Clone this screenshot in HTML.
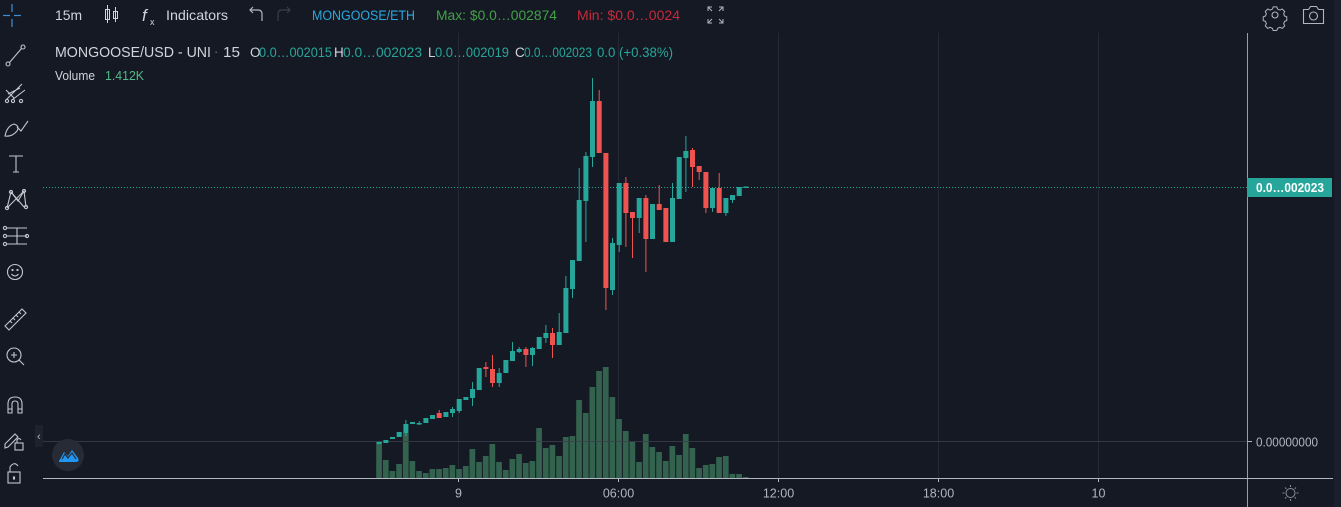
<!DOCTYPE html>
<html><head><meta charset="utf-8">
<style>
html,body{margin:0;padding:0;background:#151924;}
svg{display:block;}
text{font-family:"Liberation Sans",sans-serif;}
</style></head>
<body>
<svg width="1341" height="507" viewBox="0 0 1341 507" xmlns="http://www.w3.org/2000/svg">
<rect width="1341" height="507" fill="#151924"/>
<rect x="1334" y="0" width="7" height="507" fill="#1b1f2b"/>

<g fill="#252935">
<rect x="458" y="33" width="1" height="445"/>
<rect x="618" y="33" width="1" height="445"/>
<rect x="778" y="33" width="1" height="445"/>
<rect x="938" y="33" width="1" height="445"/>
<rect x="1098" y="33" width="1" height="445"/>
</g>

<g fill="#33634f">
<rect x="376.2" y="441" width="5.7" height="37"/>
<rect x="382.9" y="460" width="5.7" height="18"/>
<rect x="389.5" y="471" width="5.7" height="7"/>
<rect x="396.2" y="464" width="5.7" height="14"/>
<rect x="402.9" y="433" width="5.7" height="45"/>
<rect x="409.5" y="461" width="5.7" height="17"/>
<rect x="416.2" y="471" width="5.7" height="7"/>
<rect x="422.9" y="473" width="5.7" height="5"/>
<rect x="429.5" y="469" width="5.7" height="9"/>
<rect x="436.2" y="469" width="5.7" height="9"/>
<rect x="442.9" y="468" width="5.7" height="10"/>
<rect x="449.5" y="465" width="5.7" height="13"/>
<rect x="456.2" y="469" width="5.7" height="9"/>
<rect x="462.9" y="466" width="5.7" height="12"/>
<rect x="469.5" y="449" width="5.7" height="29"/>
<rect x="476.2" y="462" width="5.7" height="16"/>
<rect x="482.9" y="456" width="5.7" height="22"/>
<rect x="489.5" y="444" width="5.7" height="34"/>
<rect x="496.2" y="462" width="5.7" height="16"/>
<rect x="502.9" y="470" width="5.7" height="8"/>
<rect x="509.5" y="459" width="5.7" height="19"/>
<rect x="516.2" y="454" width="5.7" height="24"/>
<rect x="522.9" y="463" width="5.7" height="15"/>
<rect x="529.5" y="461" width="5.7" height="17"/>
<rect x="536.2" y="428" width="5.7" height="50"/>
<rect x="542.9" y="448" width="5.7" height="30"/>
<rect x="549.5" y="445" width="5.7" height="33"/>
<rect x="556.2" y="456" width="5.7" height="22"/>
<rect x="562.9" y="437" width="5.7" height="41"/>
<rect x="569.5" y="436" width="5.7" height="42"/>
<rect x="576.2" y="400" width="5.7" height="78"/>
<rect x="582.9" y="413" width="5.7" height="65"/>
<rect x="589.5" y="387" width="5.7" height="91"/>
<rect x="596.2" y="371" width="5.7" height="107"/>
<rect x="602.9" y="367" width="5.7" height="111"/>
<rect x="609.5" y="397" width="5.7" height="81"/>
<rect x="616.2" y="419" width="5.7" height="59"/>
<rect x="622.9" y="431" width="5.7" height="47"/>
<rect x="629.5" y="442" width="5.7" height="36"/>
<rect x="636.2" y="462" width="5.7" height="16"/>
<rect x="642.9" y="434" width="5.7" height="44"/>
<rect x="649.5" y="447" width="5.7" height="31"/>
<rect x="656.2" y="452" width="5.7" height="26"/>
<rect x="662.9" y="461" width="5.7" height="17"/>
<rect x="669.5" y="446" width="5.7" height="32"/>
<rect x="676.2" y="455" width="5.7" height="23"/>
<rect x="682.9" y="434" width="5.7" height="44"/>
<rect x="689.5" y="448" width="5.7" height="30"/>
<rect x="696.2" y="468" width="5.7" height="10"/>
<rect x="702.9" y="465" width="5.7" height="13"/>
<rect x="709.5" y="464" width="5.7" height="14"/>
<rect x="716.2" y="457" width="5.7" height="21"/>
<rect x="722.9" y="456" width="5.7" height="22"/>
<rect x="729.5" y="474" width="5.7" height="4"/>
<rect x="736.2" y="474" width="5.7" height="4"/>
<rect x="742.9" y="477" width="5.7" height="1"/>
</g>

<rect x="43" y="441" width="1204" height="1" fill="#3a3e4a" opacity="0.85"/>
<rect x="1247" y="441" width="5" height="1" fill="#b2b5be"/>

<line x1="43" y1="187.5" x2="1247" y2="187.5" stroke="#26a69a" stroke-width="1" stroke-dasharray="1 2"/>

<g fill="#26a69a">
<rect x="376.7" y="442" width="5" height="2"/>
<rect x="383.4" y="440" width="5" height="3"/>
<rect x="390" y="437" width="5" height="2"/>
<rect x="396.7" y="432" width="5" height="5"/>
<rect x="403.4" y="424" width="5" height="9"/><rect x="405.4" y="420" width="1" height="16"/>
<rect x="410" y="422" width="5" height="2"/>
<rect x="416.7" y="423" width="5" height="1.5"/><rect x="418.7" y="421" width="1" height="4"/>
<rect x="423.4" y="418" width="5" height="5"/>
<rect x="430" y="415" width="5" height="4"/>
<rect x="443.4" y="412" width="5" height="5"/>
<rect x="450" y="409" width="5" height="4"/><rect x="452" y="407" width="1" height="10"/>
<rect x="456.7" y="399" width="5" height="12"/><rect x="458.7" y="399" width="1" height="14"/>
<rect x="463.4" y="397" width="5" height="3"/>
<rect x="470" y="389" width="5" height="9"/><rect x="472" y="382" width="1" height="24"/>
<rect x="476.7" y="368" width="5" height="22"/>
<rect x="496.7" y="373" width="5" height="10"/><rect x="498.7" y="368" width="1" height="19"/>
<rect x="503.4" y="360" width="5" height="13"/>
<rect x="510" y="351" width="5" height="10"/><rect x="512" y="342" width="1" height="19"/>
<rect x="516.7" y="349" width="5" height="3"/><rect x="518.7" y="347" width="1" height="6"/>
<rect x="530" y="348" width="5" height="7"/><rect x="532" y="347" width="1" height="19"/>
<rect x="536.7" y="337" width="5" height="12"/>
<rect x="543.4" y="333" width="5" height="5"/><rect x="545.4" y="325" width="1" height="18"/>
<rect x="556.7" y="332" width="5" height="13"/><rect x="558.7" y="313" width="1" height="32"/>
<rect x="563.4" y="288" width="5" height="45"/><rect x="565.4" y="276" width="1" height="57"/>
<rect x="570" y="260" width="5" height="29"/><rect x="572" y="260" width="1" height="38"/>
<rect x="576.7" y="200" width="5" height="61"/><rect x="578.7" y="168" width="1" height="93"/>
<rect x="583.4" y="156" width="5" height="45"/><rect x="585.4" y="152" width="1" height="90"/>
<rect x="590" y="101" width="5" height="56"/><rect x="592" y="78" width="1" height="89"/>
<rect x="610" y="243" width="5" height="47"/><rect x="612" y="238" width="1" height="57"/>
<rect x="616.7" y="183" width="5" height="62"/><rect x="618.7" y="183" width="1" height="69"/>
<rect x="636.7" y="198" width="5" height="20"/><rect x="638.7" y="198" width="1" height="35"/>
<rect x="650" y="204" width="5" height="35"/>
<rect x="670" y="198" width="5" height="44"/><rect x="672" y="183" width="1" height="59"/>
<rect x="676.7" y="157" width="5" height="42"/>
<rect x="683.4" y="151" width="5" height="7"/><rect x="685.4" y="136" width="1" height="56"/>
<rect x="710" y="188" width="5" height="20"/><rect x="712" y="188" width="1" height="24"/>
<rect x="723.4" y="198" width="5" height="15"/><rect x="725.4" y="198" width="1" height="18"/>
<rect x="730" y="195" width="5" height="5"/><rect x="732" y="195" width="1" height="8"/>
<rect x="736.7" y="187" width="5" height="9"/>
<rect x="743.4" y="186.5" width="5" height="1.5"/>
</g>

<g fill="#ef5350">
<rect x="436.7" y="413" width="5" height="5"/><rect x="438.7" y="410" width="1" height="8"/>
<rect x="483.4" y="367" width="5" height="2"/><rect x="485.4" y="362" width="1" height="15"/>
<rect x="490" y="369" width="5" height="14"/><rect x="492" y="355" width="1" height="32"/>
<rect x="523.4" y="349" width="5" height="6"/><rect x="525.4" y="347" width="1" height="20"/>
<rect x="550" y="333" width="5" height="12"/><rect x="552" y="328" width="1" height="30"/>
<rect x="596.7" y="101" width="5" height="52"/><rect x="598.7" y="90" width="1" height="63"/>
<rect x="603.4" y="153" width="5" height="135"/><rect x="605.4" y="153" width="1" height="157"/>
<rect x="623.4" y="183" width="5" height="30"/><rect x="625.4" y="177" width="1" height="70"/>
<rect x="630" y="212" width="5" height="6"/><rect x="632" y="212" width="1" height="46"/>
<rect x="643.4" y="198" width="5" height="41"/><rect x="645.4" y="195" width="1" height="77"/>
<rect x="656.7" y="204" width="5" height="6"/><rect x="658.7" y="185" width="1" height="25"/>
<rect x="663.4" y="208" width="5" height="34"/>
<rect x="690" y="150" width="5" height="17"/><rect x="692" y="148" width="1" height="39"/>
<rect x="696.7" y="166" width="5" height="6"/><rect x="698.7" y="166" width="1" height="14"/>
<rect x="703.4" y="172" width="5" height="36"/><rect x="705.4" y="172" width="1" height="41"/>
<rect x="716.7" y="188" width="5" height="25"/><rect x="718.7" y="173" width="1" height="40"/>
</g>

<rect x="1247" y="33" width="1" height="474" fill="#9a9da6"/>
<rect x="43" y="478" width="1290" height="1" fill="#b2b5be"/>
<g fill="#b2b5be">
<rect x="458" y="478" width="1" height="4"/>
<rect x="618" y="478" width="1" height="4"/>
<rect x="778" y="478" width="1" height="4"/>
<rect x="938" y="478" width="1" height="4"/>
<rect x="1098" y="478" width="1" height="4"/>
</g>
<g fill="#b2b5be" font-size="12.5" text-anchor="middle">
<text x="458.5" y="497.5">9</text>
<text x="618.5" y="497.5">06:00</text>
<text x="778.5" y="497.5">12:00</text>
<text x="938.5" y="497.5">18:00</text>
<text x="1098.5" y="497.5">10</text>
</g>

<rect x="1247" y="178" width="85" height="19" fill="#26a69a"/>
<text x="1256" y="192" font-size="12.5" font-weight="bold" fill="#ffffff" textLength="68" lengthAdjust="spacingAndGlyphs">0.0…002023</text>
<text x="1256" y="446.5" font-size="12.5" fill="#b2b5be" textLength="62" lengthAdjust="spacingAndGlyphs">0.00000000</text>

<g stroke="#8a8d96" stroke-width="1" fill="none">
<circle cx="1290.5" cy="493" r="4.5"/>
<line x1="1290.5" y1="485" x2="1290.5" y2="487"/><line x1="1290.5" y1="499" x2="1290.5" y2="501"/>
<line x1="1282.5" y1="493" x2="1284.5" y2="493"/><line x1="1296.5" y1="493" x2="1298.5" y2="493"/>
<line x1="1285" y1="487.5" x2="1286.3" y2="488.8"/><line x1="1294.7" y1="497.2" x2="1296" y2="498.5"/>
<line x1="1296" y1="487.5" x2="1294.7" y2="488.8"/><line x1="1286.3" y1="497.2" x2="1285" y2="498.5"/>
</g>

<text x="55" y="20" font-size="14" fill="#d1d4dc" textLength="27" lengthAdjust="spacingAndGlyphs">15m</text>
<g stroke="#d1d4dc" stroke-width="1" fill="none">
<rect x="105.5" y="9.5" width="4" height="10"/><line x1="107.5" y1="5" x2="107.5" y2="23"/>
<rect x="113.5" y="11.5" width="4" height="7"/><line x1="115.5" y1="7" x2="115.5" y2="22"/>
</g>
<text x="142" y="21" font-size="17" font-style="italic" fill="#d1d4dc" font-family="Liberation Serif, serif">f</text>
<text x="150" y="25" font-size="9" fill="#d1d4dc">x</text>
<text x="166" y="20" font-size="14" fill="#d1d4dc" textLength="62" lengthAdjust="spacingAndGlyphs">Indicators</text>
<g stroke="#b2b5be" stroke-width="1.2" fill="none">
<path d="M262 21 V14 Q262 10 258 10 H250"/><path d="M253 7 L250 10 L253 13"/>
</g>
<g stroke="#3a3e4a" stroke-width="1.2" fill="none">
<path d="M278 21 V14 Q278 10 282 10 H290"/><path d="M287 7 L290 10 L287 13"/>
</g>
<text x="312" y="20" font-size="13.5" fill="#2aa8de" textLength="103" lengthAdjust="spacingAndGlyphs">MONGOOSE/ETH</text>
<text x="436" y="20" font-size="13.5" fill="#43a047" textLength="121" lengthAdjust="spacingAndGlyphs">Max: $0.0…002874</text>
<text x="577" y="20" font-size="13.5" fill="#c9283a" textLength="103" lengthAdjust="spacingAndGlyphs">Min: $0.0…0024</text>
<g stroke="#b2b5be" stroke-width="1" fill="none">
<path d="M708 11 V7 H712 M708 7 L712 11"/><path d="M723 11 V7 H719 M723 7 L719 11"/>
<path d="M708 19 V23 H712 M708 23 L712 19"/><path d="M723 19 V23 H719 M723 23 L719 19"/>
</g>
<g stroke="#b2b5be" stroke-width="1.1" fill="none">
<circle cx="1275" cy="15" r="3"/>
<path d="M1273 6 h4 l1 2.5 l2.5 1 l2.5-1.2 l2.8 2.8 l-1.2 2.5 l1 2.5 l2.5 1 v4 l-2.5 1 l-1 2.5 l1.2 2.5 l-2.8 2.8 l-2.5-1.2 l-2.5 1 l-1 2.5 h-4 l-1-2.5 l-2.5-1 l-2.5 1.2 l-2.8-2.8 l1.2-2.5 l-1-2.5 l-2.5-1 v-4 l2.5-1 l1-2.5 l-1.2-2.5 l2.8-2.8 l2.5 1.2 l2.5-1 z" transform="translate(1275 15) scale(0.9) translate(-1275 -15)"/>
</g>
<g stroke="#b2b5be" stroke-width="1.1" fill="none">
<path d="M1303.5 9.5 h5 l2-3 h6 l2 3 h5 v14 h-20 z"/>
<circle cx="1313.5" cy="16" r="4"/>
</g>

<text x="55" y="57" font-size="15" fill="#d1d4dc" textLength="156" lengthAdjust="spacingAndGlyphs">MONGOOSE/USD - UNI</text>
<text x="214" y="56" font-size="13" fill="#787b86">·</text>
<text x="223" y="57" font-size="15" fill="#d1d4dc" textLength="17" lengthAdjust="spacingAndGlyphs">15</text>
<g font-size="13.5">
<text x="250" y="57" fill="#d1d4dc">O</text><text x="259" y="57" fill="#26a69a" textLength="73" lengthAdjust="spacingAndGlyphs">0.0…002015</text>
<text x="334" y="57" fill="#d1d4dc">H</text><text x="343" y="57" fill="#26a69a" textLength="79" lengthAdjust="spacingAndGlyphs">0.0…002023</text>
<text x="428" y="57" fill="#d1d4dc">L</text><text x="435" y="57" fill="#26a69a" textLength="74" lengthAdjust="spacingAndGlyphs">0.0…002019</text>
<text x="515" y="57" fill="#d1d4dc">C</text><text x="524" y="57" fill="#26a69a" textLength="68" lengthAdjust="spacingAndGlyphs">0.0…002023</text>
<text x="597" y="57" fill="#26a69a" textLength="76" lengthAdjust="spacingAndGlyphs">0.0 (+0.38%)</text>
</g>
<text x="55" y="80" font-size="12.5" fill="#d1d4dc" textLength="40" lengthAdjust="spacingAndGlyphs">Volume</text>
<text x="105" y="80" font-size="12.5" fill="#53b987" textLength="39" lengthAdjust="spacingAndGlyphs">1.412K</text>

<g stroke="#3d8fd8" stroke-width="1.2">
<line x1="3" y1="15.5" x2="10" y2="15.5"/><line x1="14" y1="15.5" x2="21" y2="15.5"/>
<line x1="12" y1="4" x2="12" y2="12"/><line x1="12" y1="19" x2="12" y2="27"/>
</g>
<g stroke="#c3c6ce" stroke-width="1.1" fill="none">
<circle cx="8" cy="64" r="2"/><circle cx="23" cy="47" r="2"/><line x1="9.5" y1="62.5" x2="21.5" y2="48.5"/>
<path d="M6 100 L22 84 M8 94 L20 88 M12 100 L25 90 M6 90 L14 98"/><circle cx="7" cy="101" r="1.6"/><circle cx="13" cy="101" r="1.6"/><circle cx="21" cy="101" r="1.6"/>
<path d="M5 136 Q7 126 14 124 Q20 126 17 131 Q12 137 5 136 Z"/><path d="M17 127 L21 131 L28 121"/>
<path d="M9 156 H23 M16 156 V172 M13 172 H19"/>
<path d="M7 208 L11 192 L18 201 L24 191 L26 207 M11 192 L24 207 M7 208 L24 191"/>
<circle cx="7" cy="208" r="1.6"/><circle cx="11" cy="192" r="1.6"/><circle cx="24" cy="191" r="1.6"/><circle cx="26" cy="207" r="1.6"/>
<path d="M7 228 H27 M7 236 H27 M7 244 H27 M17 228 V244"/><circle cx="5" cy="228" r="1.6"/><circle cx="5" cy="236" r="1.6"/><circle cx="5" cy="244" r="1.6"/><circle cx="27" cy="236" r="1.6"/>
<circle cx="15" cy="272" r="7.5"/><path d="M11.5 274 Q15 278 18.5 274"/><circle cx="12.5" cy="270" r="0.6"/><circle cx="17.5" cy="270" r="0.6"/>
<path d="M5 326 L22 309 L26 313 L9 330 Z M10 321 l2 2 M13 318 l2 2 M16 315 l2 2 M19 312 l2 2"/>
<circle cx="14" cy="355" r="7"/><path d="M19 360 L24 365 M11 355 H17 M14 352 V358"/>
<path d="M8 413 V404 Q8 397 15 397 Q22 397 22 404 V413 H18 V404 Q18 401 15 401 Q12 401 12 404 V413 Z M8 409 H12 M18 409 H22"/>
<path d="M5 444 L15 434 L18 437 L8 447 L5 448 Z"/><rect x="15" y="443" width="8" height="7"/><path d="M17 443 V440 Q19 437 21 440"/>
<rect x="8" y="472" width="12" height="11"/><path d="M10 472 V467 Q14 461 18 466"/><rect x="13.5" y="477" width="1" height="2"/>
</g>

<rect x="35" y="425" width="8" height="22" fill="#1e222d"/>
<text x="37" y="440" font-size="11" fill="#b2b5be">‹</text>

<circle cx="68" cy="455" r="16" fill="#272b36"/>
<path d="M59 461 L64 452 L68 456 L72 450 L78 458 Q80 462 75 462 H61 Q58 462 59 461 Z" fill="#2196f3"/>
<path d="M62 459 L65 454 L68 458 L72 453 L76 459" stroke="#272b36" stroke-width="1.2" fill="none"/>
</svg>
</body></html>
